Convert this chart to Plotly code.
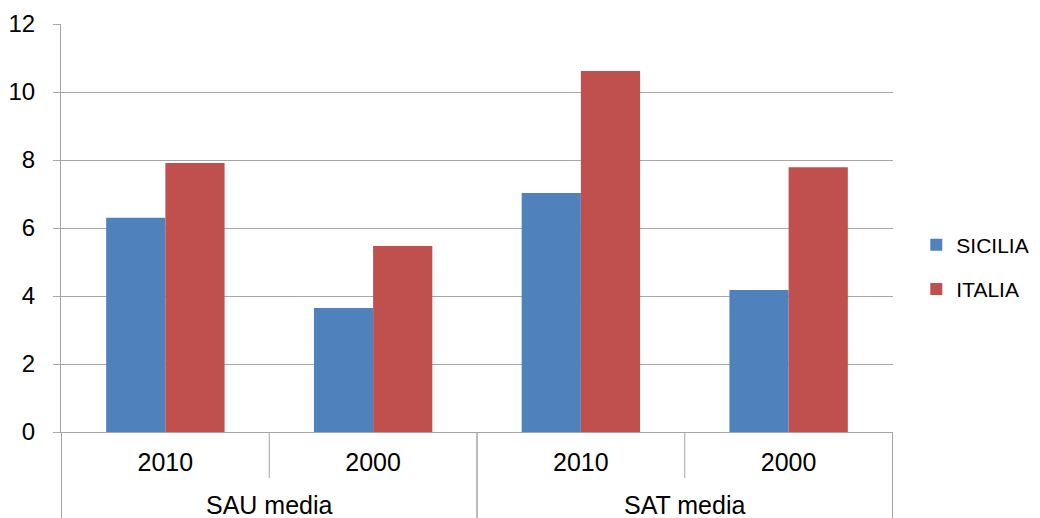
import plotly.graph_objects as go

groups = ["SAU media", "SAU media", "SAT media", "SAT media"]
years = ["2010", "2000", "2010", "2000"]
sicilia = [6.3, 3.65, 7.03, 4.18]
italia = [7.91, 5.47, 10.62, 7.79]

cats = [f"{g}|{y}" for g, y in zip(groups, years)]
GRID = "#A6A6A6"

fig = go.Figure()
fig.add_bar(x=cats, y=sicilia, name="SICILIA", marker_color="#4F81BD",
            marker_line_width=0, legendgroup="a")
fig.add_bar(x=cats, y=italia, name="ITALIA", marker_color="#C0504D",
            marker_line_width=0, legendgroup="b")

H_PLOT = 408.0
shapes = []
annotations = []
uniq = []
for g in groups:
    if g not in uniq:
        uniq.append(g)
for g in uniq:
    idx = [i for i, gg in enumerate(groups) if gg == g]
    annotations.append(dict(x=sum(idx) / len(idx), xref="x", y=-73 / H_PLOT, yref="paper",
                            text=g, showarrow=False, yanchor="middle",
                            font=dict(size=25, color="#000")))
    lo, hi = min(idx) - 0.5, max(idx) + 0.5
    for xe in (lo, hi):
        shapes.append(dict(type="line", xref="x", yref="paper", x0=xe, x1=xe,
                           y0=0, y1=-86 / H_PLOT, line=dict(color=GRID, width=1)))
    for k in idx[:-1]:
        shapes.append(dict(type="line", xref="x", yref="paper", x0=k + 0.5, x1=k + 0.5,
                           y0=0, y1=-46 / H_PLOT, line=dict(color=GRID, width=1)))

fig.update_layout(
    width=1032, height=510,
    margin=dict(l=53, r=147, t=16, b=86, autoexpand=False),
    barmode="group", bargap=0.43, bargroupgap=0,
    plot_bgcolor="white", paper_bgcolor="white",
    font=dict(family="Liberation Sans, Arial", size=25, color="#000"),
    legend=dict(x=1.028, y=0.404, yanchor="middle", font=dict(size=21),
                traceorder="grouped", tracegroupgap=14, itemwidth=30),
    shapes=shapes, annotations=annotations,
)
fig.update_xaxes(type="category", tickvals=cats, ticktext=years, automargin=False,
                 showline=True, linecolor=GRID, linewidth=1, ticks="",
                 ticklabelstandoff=8, tickfont=dict(size=25), showgrid=False)
fig.update_yaxes(range=[0, 12], dtick=2, showgrid=True, gridcolor=GRID, gridwidth=1,
                 showline=True, linecolor=GRID, ticks="outside", ticklen=7,
                 tickcolor=GRID, tickfont=dict(size=24), zeroline=False,
                 automargin=False, ticklabelstandoff=13)
fig.write_html("out.html")
